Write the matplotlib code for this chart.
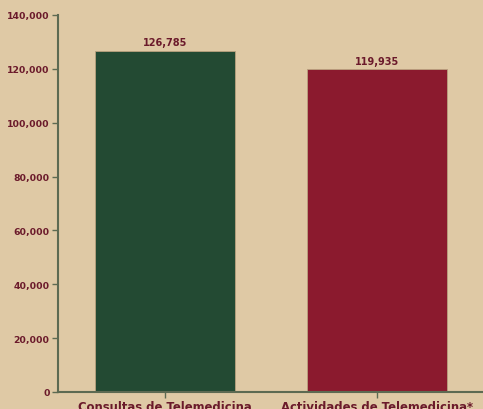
import matplotlib.pyplot as plt

categories = ['Consultas de Telemedicina', 'Actividades de Telemedicina*']
values = [126785, 119935]
colors = ['#234a33', '#8b1a2e']

bg = '#dfc9a5'
txt = '#6b1a2b'
spine = '#5d6a52'

plt.rcParams['font.family'] = ['DejaVu Sans']

fig = plt.figure(figsize=(4.83, 4.10), dpi=100, facecolor=bg)
ax = fig.add_axes([0.12, 0.0415, 0.88, 0.9195], facecolor=bg)

x = range(len(categories))
bars = ax.bar(x, values, width=0.66, color=colors, edgecolor='#b9a27f', linewidth=0.6)

for b, v in zip(bars, values):
    ax.text(b.get_x() + b.get_width() / 2, v + 1300, f'{v:,}', ha='center', va='bottom',
            fontsize=7, fontweight='bold', color=txt)

ax.set_xlim(-0.505, 1.5)
ax.set_ylim(0, 140000)
ax.set_yticks(range(0, 140001, 20000))
ax.set_yticklabels([f'{t:,}' for t in range(0, 140001, 20000)])
ax.set_xticks(list(x))
ax.set_xticklabels(categories)

ax.tick_params(axis='y', colors=spine, labelcolor=txt, labelsize=6.7, length=4, width=1, pad=2)
ax.tick_params(axis='x', colors=spine, labelcolor=txt, labelsize=8.4, length=4, width=1, pad=2)
for lab in ax.get_yticklabels() + ax.get_xticklabels():
    lab.set_fontweight('bold')

for s in ['top', 'right']:
    ax.spines[s].set_visible(False)
for s in ['left', 'bottom']:
    ax.spines[s].set_color(spine)
    ax.spines[s].set_linewidth(1.5)

fig.savefig('out.png', dpi=100, facecolor=bg)
